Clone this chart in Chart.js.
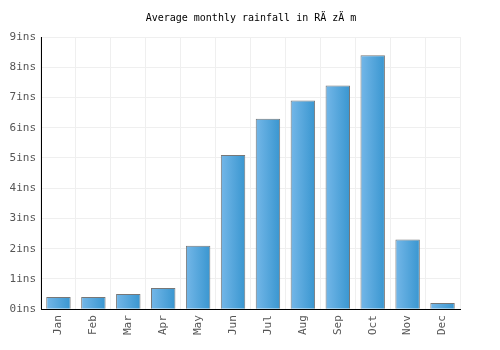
<!DOCTYPE html>
<html>
<head>
<meta charset="utf-8">
<script src="https://cdn.jsdelivr.net/npm/chart.js@4"></script>
<style>
    body { margin: 0; background: #fff; }
    #grafico { width: 500px; height: 350px; }
</style>
</head>
<body>
<div id="grafico"><canvas id="chuva"></canvas></div>
<script>
const meses = ['Jan', 'Feb', 'Mar', 'Apr', 'May', 'Jun', 'Jul', 'Aug', 'Sep', 'Oct', 'Nov', 'Dec'];
const chuvaMedia = [0.4, 0.4, 0.5, 0.7, 2.1, 5.1, 6.3, 6.9, 7.4, 8.4, 2.3, 0.2];
const ticksY = [0, 1, 2, 3, 4, 5, 6, 7, 8, 9];

const fonteBase = { family: '"DejaVu Sans Mono", monospace', size: 11 };
const larguraBarra = 0.7;

function gradienteBarra(ctx) {
    const chart = ctx.chart;
    const escalaX = chart.scales.x;
    if (!escalaX || ctx.dataIndex === undefined) return '#4aa3dc';
    const centro = escalaX.getPixelForValue(ctx.dataIndex);
    const meia = (escalaX.width / meses.length) * larguraBarra / 2;
    if (!isFinite(centro) || !isFinite(meia) || meia <= 0) return '#4aa3dc';
    const g = chart.ctx.createLinearGradient(centro - meia, 0, centro + meia, 0);
    g.addColorStop(0, '#74b7e8');
    g.addColorStop(1, '#3996d0');
    return g;
}

new Chart(document.getElementById('chuva'), {
    type: 'bar',
    data: {
        labels: meses,
        datasets: [{
            data: chuvaMedia,
            backgroundColor: gradienteBarra,
            borderColor: '#777',
            borderWidth: 1,
            barPercentage: larguraBarra,
            categoryPercentage: 1
        }]
    },
    options: {
        responsive: true,
        maintainAspectRatio: false,
        animation: false,
        layout: { padding: { top: 6, right: 0, bottom: 9, left: 2 } },
        plugins: {
            legend: { display: false },
            tooltip: { enabled: false },
            title: {
                display: true,
                text: 'Average monthly rainfall in RÄ zÄ m',
                color: '#000',
                font: { ...fonteBase, size: 10, weight: 'normal' },
                padding: { top: 6, bottom: 13 }
            }
        },
        scales: {
            x: {
                offset: true,
                border: { display: true, color: '#000', width: 1 },
                grid: { color: '#efefef', offset: true, drawTicks: false },
                ticks: {
                    color: '#555',
                    font: fonteBase,
                    maxRotation: 90,
                    minRotation: 90,
                    padding: 6
                }
            },
            y: {
                min: 0,
                max: 9,
                afterBuildTicks: escala => { escala.ticks = ticksY.map(v => ({ value: v })); },
                afterFit: escala => { escala.width = 39; },
                border: { display: true, color: '#000', width: 1 },
                grid: { color: '#efefef', drawTicks: false },
                ticks: {
                    color: '#555',
                    font: fonteBase,
                    padding: 5,
                    callback: v => v + 'ins'
                }
            },
            // eixo vazio só para reservar a margem direita
            margemDireita: {
                type: 'linear',
                position: 'right',
                min: 0,
                max: 9,
                afterFit: escala => { escala.width = 40; },
                border: { display: false },
                grid: { display: false },
                ticks: { display: false }
            }
        }
    }
});
</script>
</body>
</html>
